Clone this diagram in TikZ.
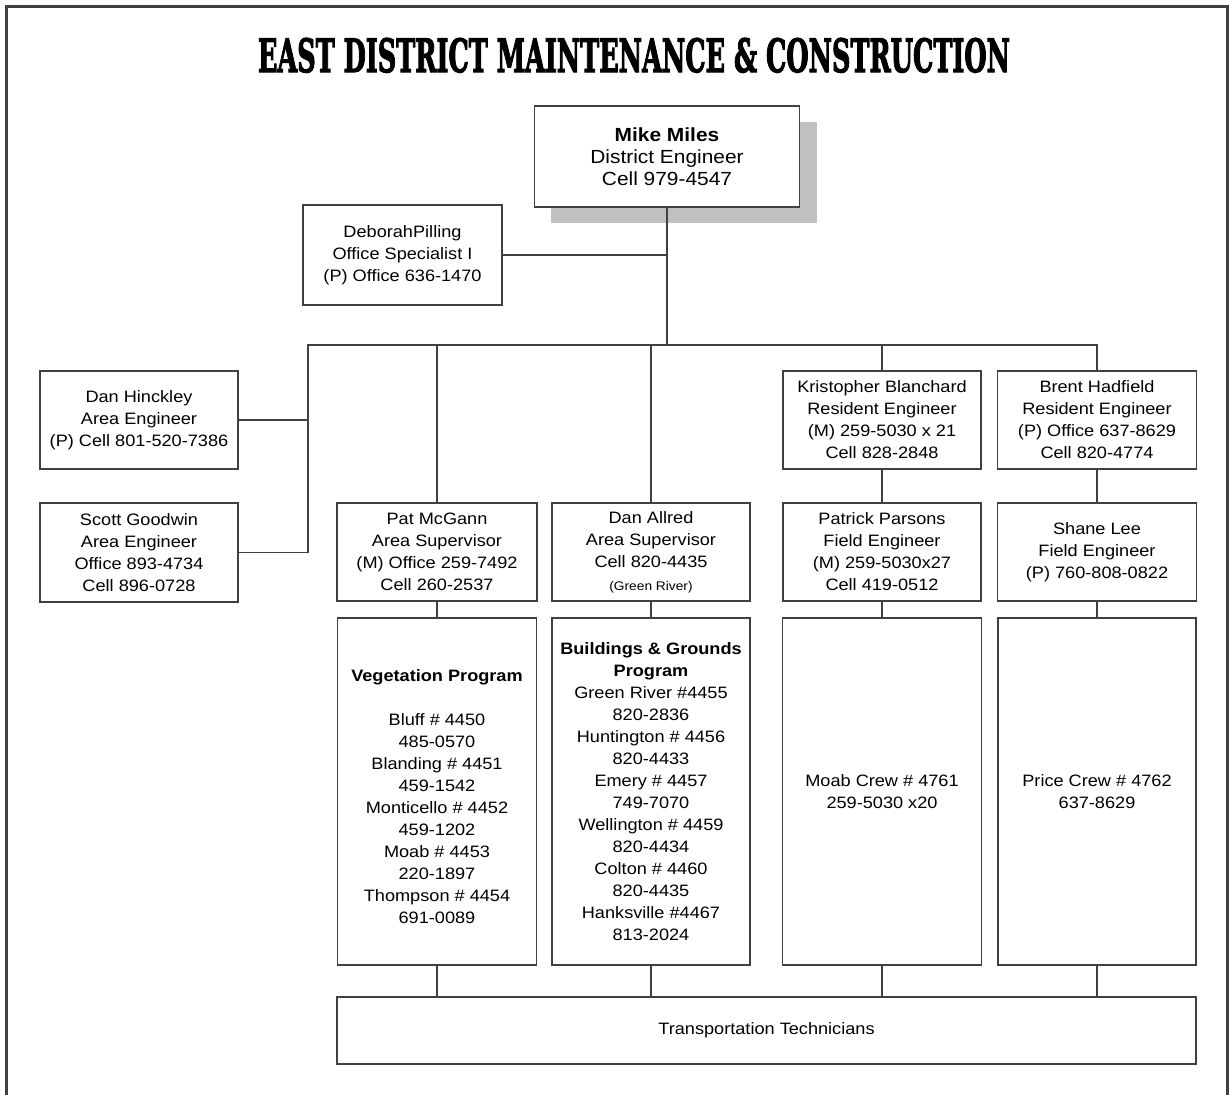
\documentclass[tikz,border=0pt]{standalone}
\usepackage{fontspec}
\usepackage{graphicx}
\newfontfamily\orgfont[FakeStretch=1.1]{Liberation Sans}
\newfontfamily\headfont[FakeBold=3]{DejaVu Serif}
\definecolor{linegray}{HTML}{404040}
\definecolor{shadowgray}{HTML}{C0C0C0}
\tikzset{
    orgbox/.style={draw=linegray, line width=1.4pt, fill=white, align=center,
        inner sep=1pt, minimum width=199pt, minimum height=98pt,
        font=\orgfont\fontsize{16.5}{22}\selectfont},
    tallbox/.style={orgbox, minimum height=347pt},
    orgline/.style={draw=linegray, line width=1.4pt},
    frameline/.style={draw=linegray, line width=2.5pt},
}
\begin{document}
\begin{tikzpicture}[x=1pt, y=-1pt]
    \useasboundingbox (0,0) rectangle (1229,1095);
    \draw[frameline] (6.5,1095) -- (6.5,6.5) -- (1227.5,6.5) -- (1227.5,1095);

    \node[anchor=base] (title) at (634,72)
        {\resizebox{752pt}{34pt}{\headfont\bfseries EAST DISTRICT MAINTENANCE \& CONSTRUCTION}};

    \fill[shadowgray] (551,122) rectangle (817,223);
    \node[orgbox, minimum width=265pt, minimum height=101pt,
        font=\orgfont\fontsize{19}{22}\selectfont] (mike) at (667,156.5)
        {\textbf{Mike Miles}\\District Engineer\\Cell 979-4547};
    \node[orgbox, minimum height=100pt] (pilling) at (402.5,255)
        {DeborahPilling\\Office Specialist I\\(P) Office 636-1470};

    \node[orgbox, minimum width=198pt] (hinckley) at (139,420)
        {Dan Hinckley\\Area Engineer\\(P) Cell 801-520-7386};
    \node[orgbox, minimum width=198pt, minimum height=99pt] (goodwin) at (139,552.5)
        {Scott Goodwin\\Area Engineer\\Office 893-4734\\Cell 896-0728};
    \node[orgbox, minimum width=200pt] (mcgann) at (437,552)
        {Pat McGann\\Area Supervisor\\(M) Office 259-7492\\Cell 260-2537};
    \node[orgbox, minimum width=198pt] (allred) at (651,552)
        {Dan Allred\\Area Supervisor\\Cell 820-4435\\[1pt]{\fontsize{12.5}{14}\selectfont(Green River)}};
    \node[orgbox, minimum width=198pt] (blanchard) at (882,420)
        {Kristopher Blanchard\\Resident Engineer\\(M) 259-5030 x 21\\Cell 828-2848};
    \node[orgbox] (hadfield) at (1097,420)
        {Brent Hadfield\\Resident Engineer\\(P) Office 637-8629\\Cell 820-4774};
    \node[orgbox, minimum width=198pt] (parsons) at (882,552)
        {Patrick Parsons\\Field Engineer\\(M) 259-5030x27\\Cell 419-0512};
    \node[orgbox] (lee) at (1097,552)
        {Shane Lee\\Field Engineer\\(P) 760-808-0822};

    \node[tallbox] (vegetation) at (437,791.5)
        {\mbox{}\\\textbf{Vegetation Program}\\\mbox{}\\Bluff \# 4450\\485-0570\\Blanding \# 4451\\459-1542\\
        Monticello \# 4452\\459-1202\\Moab \# 4453\\220-1897\\Thompson \# 4454\\691-0089};
    \node[tallbox, minimum width=198pt] (grounds) at (651,791.5)
        {\textbf{Buildings \& Grounds}\\\textbf{Program}\\Green River \#4455\\820-2836\\Huntington \# 4456\\820-4433\\
        Emery \# 4457\\749-7070\\Wellington \# 4459\\820-4434\\Colton \# 4460\\820-4435\\Hanksville \#4467\\813-2024};
    \node[tallbox] (moab) at (882,791.5)
        {Moab Crew \# 4761\\259-5030 x20};
    \node[tallbox, minimum width=198pt] (price) at (1097,791.5)
        {Price Crew \# 4762\\637-8629};
    \node[orgbox, minimum width=859pt, minimum height=67pt] (techs) at (766.5,1030.5)
        {Transportation Technicians};

    \coordinate (hub) at (667,345);
    \coordinate (spine) at (308,345);
    \draw[orgline] (mike.south) -- (hub);
    \draw[orgline] (pilling.east) -- (pilling.east -| hub);
    \draw[orgline] (hub) -- (spine) |- (goodwin.east);
    \draw[orgline] (hinckley.east) -- (hinckley.east -| spine);
    \draw[orgline] (hub) -| (mcgann.north);
    \draw[orgline] (hub) -| (allred.north);
    \draw[orgline] (hub) -| (blanchard.north);
    \draw[orgline] (hub) -| (hadfield.north);

    \draw[orgline] (blanchard.south) -- (parsons.north);
    \draw[orgline] (hadfield.south) -- (lee.north);
    \draw[orgline] (mcgann.south) -- (vegetation.north);
    \draw[orgline] (allred.south) -- (grounds.north);
    \draw[orgline] (parsons.south) -- (moab.north);
    \draw[orgline] (lee.south) -- (price.north);

    \draw[orgline] (vegetation.south) -- (vegetation.south |- techs.north);
    \draw[orgline] (grounds.south) -- (grounds.south |- techs.north);
    \draw[orgline] (moab.south) -- (moab.south |- techs.north);
    \draw[orgline] (price.south) -- (price.south |- techs.north);
\end{tikzpicture}
\end{document}
